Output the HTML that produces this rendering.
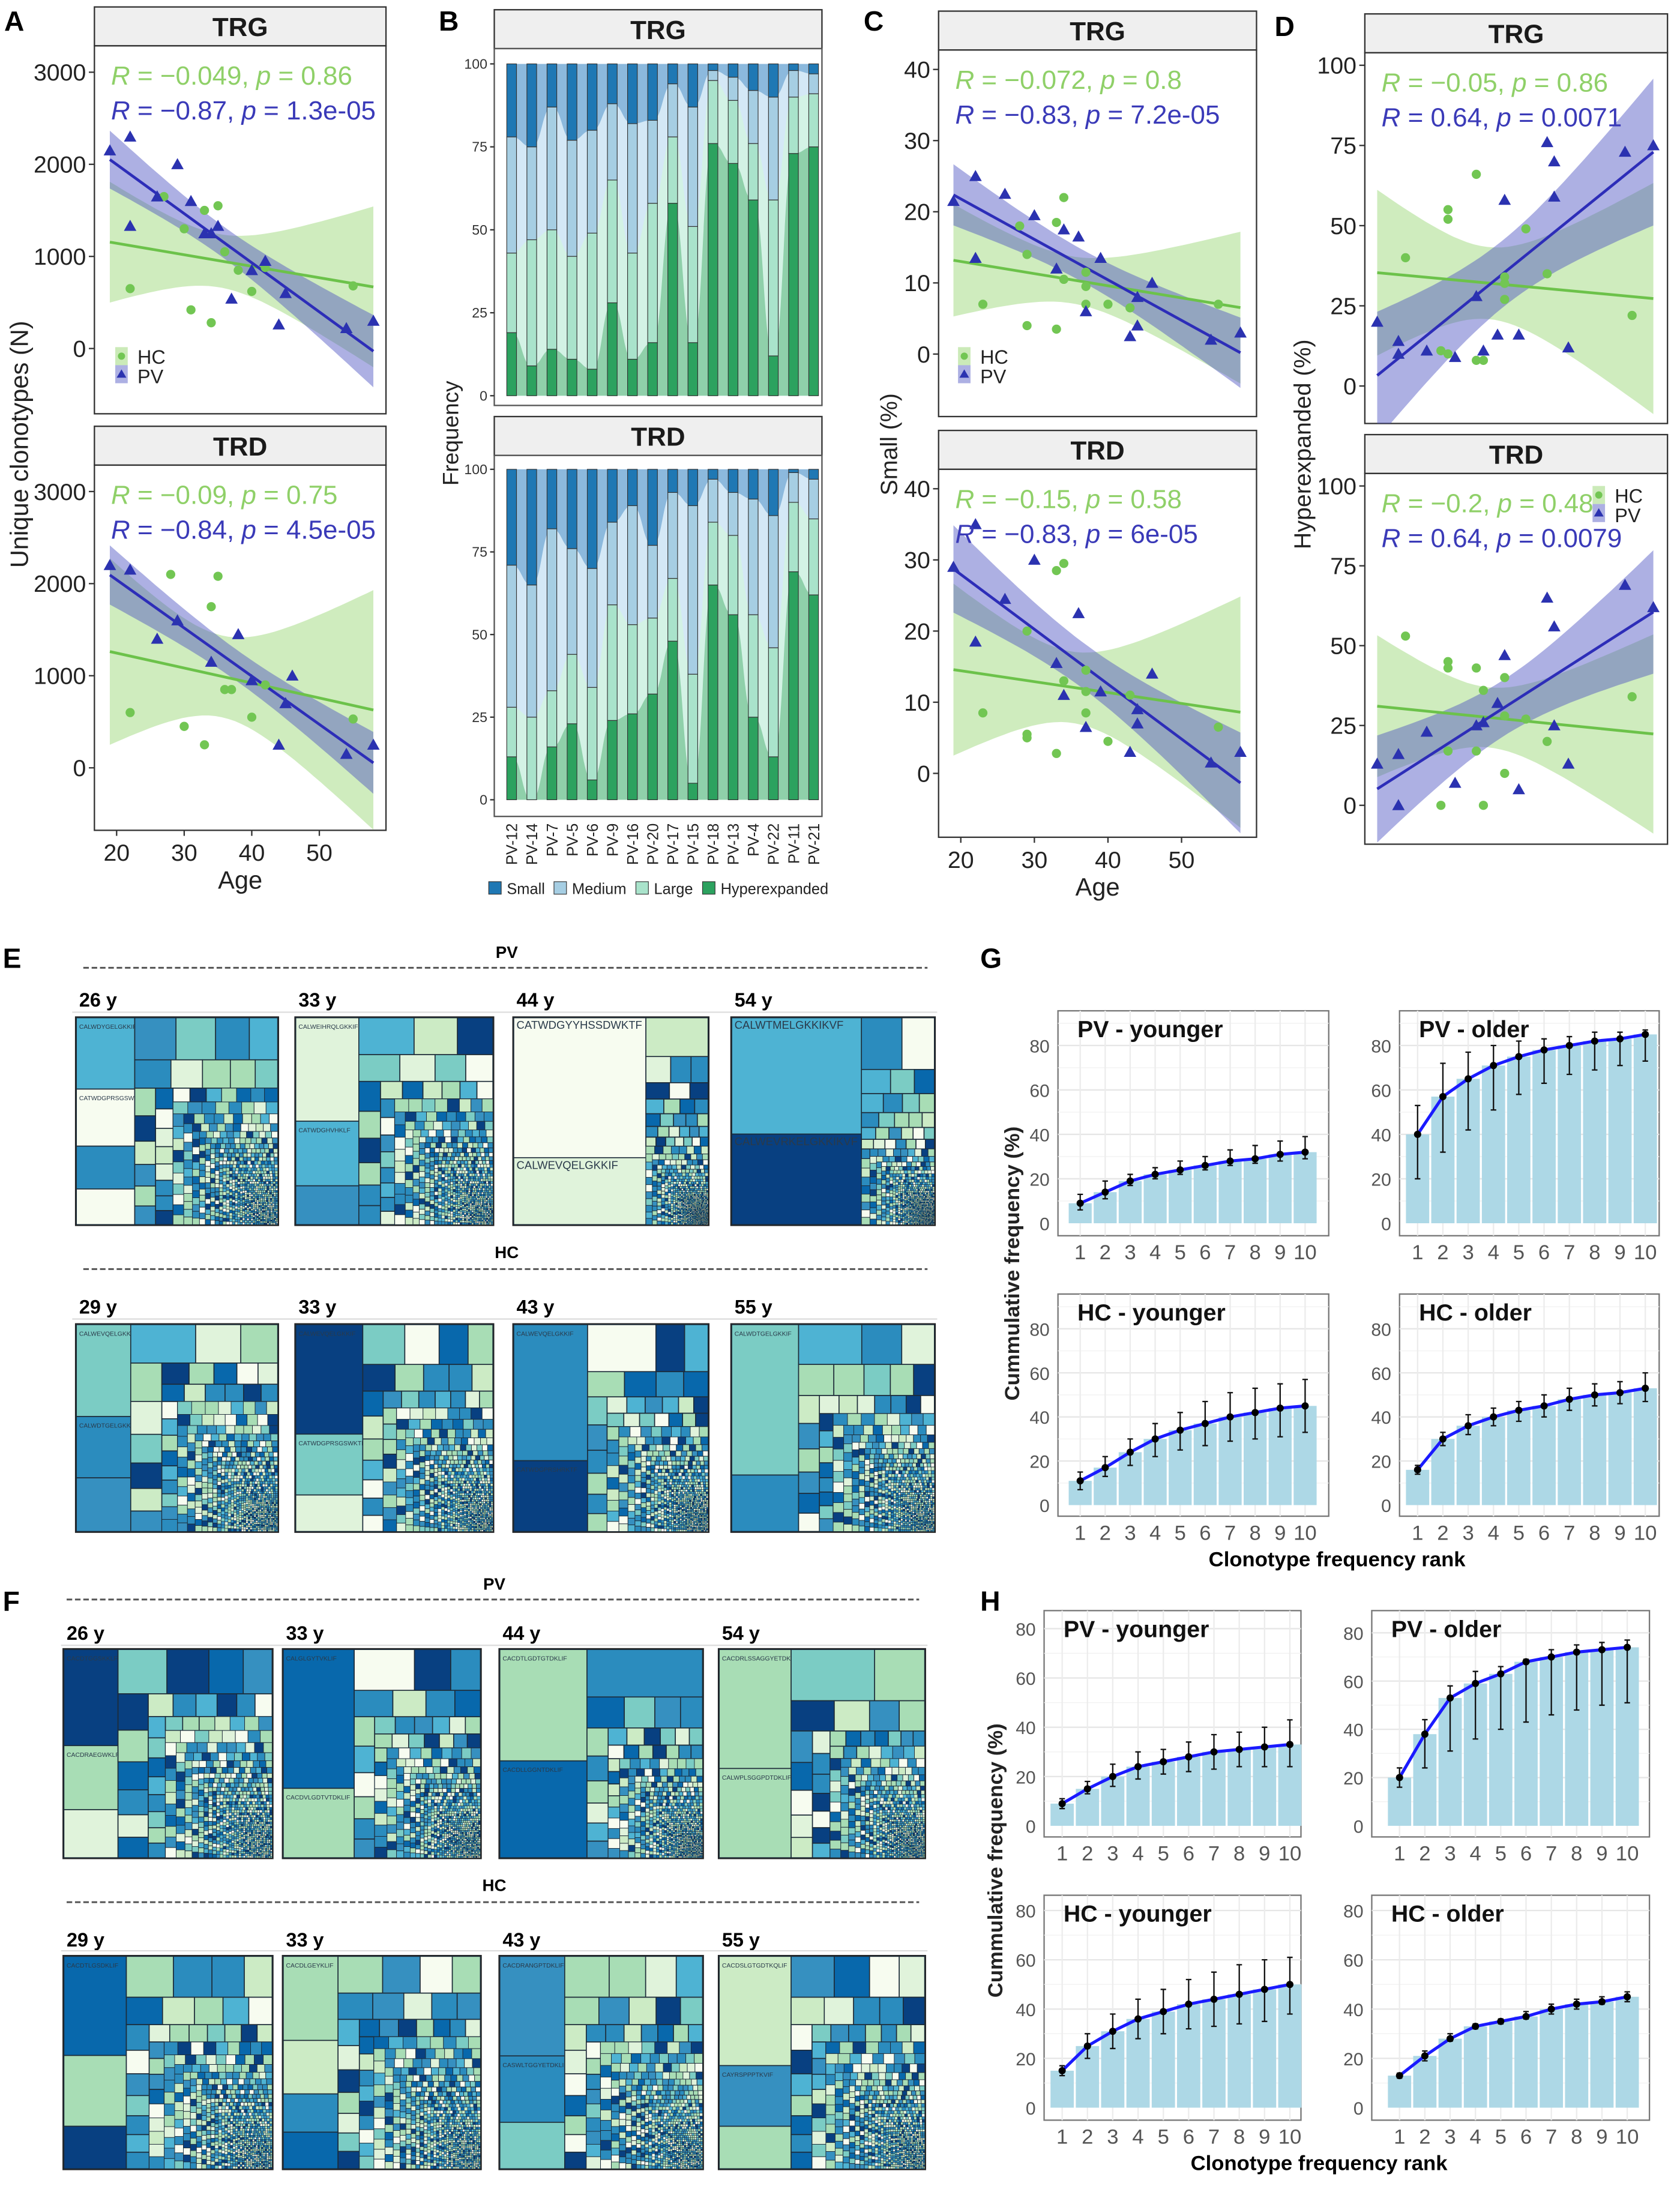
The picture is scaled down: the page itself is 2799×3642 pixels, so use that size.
<!DOCTYPE html>
<html><head><meta charset="utf-8">
<style>
html,body{margin:0;padding:0;background:#fff;}
svg{display:block;font-family:"Liberation Sans",Arial,sans-serif;}
</style></head>
<body>
<svg id="fig" xmlns="http://www.w3.org/2000/svg" width="2799" height="3642" viewBox="0 0 1210 1574.4">
<defs>
<clipPath id="cA1"><rect x="68" y="33" width="210" height="265"/></clipPath>
<clipPath id="cA2"><rect x="68" y="335" width="210" height="263"/></clipPath>
<clipPath id="cC1"><rect x="676" y="36" width="229" height="264"/></clipPath>
<clipPath id="cC2"><rect x="676" y="338" width="229" height="265"/></clipPath>
<clipPath id="cD1"><rect x="983" y="38" width="218" height="267"/></clipPath>
<clipPath id="cD2"><rect x="983" y="341" width="218" height="267"/></clipPath>
</defs>
<rect x="0" y="0" width="1210" height="1574.4" fill="#fff"/>
</svg>
<script>
// ---------- Panel A data (Unique clonotypes) ----------
const A_TRG_hcAge=[22,27,30,31,33,34,35,36,38,40,42,55];
const A_TRG_hcVal=[650,1650,1300,420,1500,280,1550,1050,850,620,880,680];
const A_TRG_pvAge=[19,22,22,26,29,31,33,34,35,37,40,42,44,45,54,58];
const A_TRG_pvVal=[2150,2300,1330,1650,2000,1600,1250,1250,1330,540,850,950,260,600,220,300];
const A_TRD_hcAge=[22,28,30,33,34,35,36,37,40,42,55];
const A_TRD_hcVal=[600,2100,450,250,1750,2080,850,850,550,900,530];
const A_TRD_pvAge=[19,22,26,29,34,38,40,44,45,46,54,58];
const A_TRD_pvVal=[2200,2150,1400,1600,1150,1450,950,250,700,1000,150,250];
// ---------- Panel C data (Small %) ----------
const C_TRG_hcAge=[23,28,29,29,33,33,34,34,37,37,37,40,43,55];
const C_TRG_hcVal=[7,18,14,4,18.5,3.5,22,10.5,11.5,9.5,7,7,6.5,7];
const C_TRG_pvAge=[19,22,22,26,30,33,34,36,37,39,43,44,44,46,54,58];
const C_TRG_pvVal=[21.5,25,13.5,22.5,19.5,12,17.5,16.5,6,13.5,2.5,8,4,10,2,3];
const C_TRD_hcAge=[23,29,29,29,33,33,34,34,37,37,37,40,43,55];
const C_TRD_hcVal=[8.5,5.5,5,20,28.5,2.8,29.5,13,14.5,11.5,8.5,4.5,11,6.5];
const C_TRD_pvAge=[19,22,22,26,30,33,34,36,37,39,43,44,44,46,54,58];
const C_TRD_pvVal=[29,35,18.5,24.5,30,15.5,11,22.5,6.5,11.5,3,9,7,14,1.5,3];
// ---------- Panel D data (Hyperexpanded %) ----------
const D_TRG_hcAge=[23,28,29,29,29,33,33,34,37,37,37,40,43,55];
const D_TRG_hcVal=[40,11,10,52,55,8,66,8,27,32,34,49,35,22];
const D_TRG_pvAge=[19,22,22,26,30,33,34,36,37,39,43,44,44,46,54,58];
const D_TRG_pvVal=[20,14,10,11,9,28,11,16,58,16,76,59,70,12,73,75];
const D_TRD_hcAge=[23,28,29,29,29,33,33,34,34,37,37,37,40,43,55];
const D_TRD_hcVal=[53,0,45,43,17,43,17,36,0,40,10,28,27,20,34];
const D_TRD_pvAge=[19,22,22,26,30,33,34,36,37,39,43,44,44,46,54,58];
const D_TRD_pvVal=[13,16,0,23,7,25,26,32,47,5,65,56,25,13,69,62];
// ---------- Panel B data (stacked frequency) ----------
const B_categories=["PV-12","PV-14","PV-7","PV-5","PV-6","PV-9","PV-16","PV-20","PV-17","PV-15","PV-18","PV-13","PV-4","PV-22","PV-11","PV-21"];
const B_TRG_hyper=[19,9,14,11,8,28,11,16,58,16,76,70,59,12,73,75];
const B_TRG_large=[24,38,36,31,41,37,32,42,20,35,19,19,17,47,17,16];
const B_TRG_medium=[35,28,37,35,31,23,39,25,16,36,3,7,16,31,8,6];
const B_TRD_hyper=[13,0,16,23,6,24,26,32,48,5,65,56,25,13,69,62];
const B_TRD_large=[15,25,17,21,28,35,27,23,19,33,19,24,31,33,21,23];
const B_TRD_medium=[43,40,49,32,36,25,36,22,26,51,13,13,35,40,9,12];
const B_ticks=[0,25,50,75,100];
// ---------- Panels G/H data (cumulative frequency, mean / lower / upper) ----------
const rankCats=[1,2,3,4,5,6,7,8,9,10];
const G_pvY_val=[9,14,19,22,24,26,28,29,31,32];
const G_pvY_lo=[6,11,17,20,22,24,26,27,28,29];
const G_pvY_hi=[13,19,22,25,28,30,33,35,37,39];
const G_pvO_val=[40,57,65,71,75,78,80,82,83,85];
const G_pvO_lo=[20,32,42,51,58,63,67,69,71,73];
const G_pvO_hi=[53,72,77,80,82,83,84,86,86,87];
const G_hcY_val=[11,17,24,30,34,37,40,42,44,45];
const G_hcY_lo=[7,13,18,22,25,27,29,30,31,33];
const G_hcY_hi=[15,22,30,37,42,47,51,53,55,57];
const G_hcO_val=[16,30,36,40,43,45,48,50,51,53];
const G_hcO_lo=[14,27,32,36,38,40,43,45,46,47];
const G_hcO_hi=[18,33,41,44,47,50,53,55,56,60];
const H_pvY_val=[9,15,20,24,26,28,30,31,32,33];
const H_pvY_lo=[7,13,16,19,21,22,23,24,24,24];
const H_pvY_hi=[11,18,25,30,31,34,37,38,40,43];
const H_pvO_val=[20,38,53,59,63,68,70,72,73,74];
const H_pvO_lo=[16,24,31,36,40,43,46,48,50,51];
const H_pvO_hi=[24,44,58,64,66,69,73,75,76,77];
const H_hcY_val=[15,25,31,36,39,42,44,46,48,50];
const H_hcY_lo=[13,20,24,28,30,32,33,34,35,38];
const H_hcY_hi=[17,30,38,44,48,52,55,58,60,61];
const H_hcO_val=[13,21,28,33,35,37,40,42,43,45];
const H_hcO_lo=[12,19,27,32,34,36,38,40,42,43];
const H_hcO_hi=[14,23,30,34,36,39,42,44,45,47];
const rankTicks=[0,20,40,60,80];

const NS='http://www.w3.org/2000/svg';
const svg=document.getElementById('fig');
function el(tag,a,p){const e=document.createElementNS(NS,tag);for(const k in a)e.setAttribute(k,a[k]);(p||svg).appendChild(e);return e;}
function txt(s,x,y,a,p){const t=el('text',Object.assign({x:x,y:y},a||{}),p);t.textContent=s;return t;}
function lin(d0,d1,r0,r1){return v=>r0+(v-d0)*(r1-r0)/(d1-d0);}

const GREEN='#6cc24a', BLUE='#2d2db8';

[["A",3,22],["B",316,22],["C",622,22],["D",918,26],["E",2,697],["F",2,1160],["G",706,697],["H",706,1160]].forEach(l=>{
  const t=txt(l[0],l[1],l[2],{'font-size':20,'font-weight':'bold'});
  
  
});

function header(x0,x1,y0,y1,label,name){
  const g=el('g',{});
  
  
  el('rect',{x:x0,y:y0,width:x1-x0,height:y1-y0,fill:'#efefef',stroke:'#333','stroke-width':1},g);
  txt(label,(x0+x1)/2,y1-7,{'font-size':19,'font-weight':'bold','text-anchor':'middle',fill:'#1a1a1a'},g);
}

function regress(xs,ys){
  const n=xs.length;let mx=0,my=0;xs.forEach((x,i)=>{mx+=x;my+=ys[i];});mx/=n;my/=n;
  let sxx=0,sxy=0;xs.forEach((x,i)=>{sxx+=(x-mx)*(x-mx);sxy+=(x-mx)*(ys[i]-my);});
  const b=sxy/sxx,a=my-b*mx;let sse=0;xs.forEach((x,i)=>{const r=ys[i]-(a+b*x);sse+=r*r;});
  const s=Math.sqrt(sse/(n-2));return {a,b,mx,sxx,s,n};
}

function scatterPanel(c){
  header(c.x0,c.x1,c.hTop,c.top,c.title,c.name+'-header');
  const g=el('g',{});
  
  
  el('rect',{x:c.x0,y:c.top,width:c.x1-c.x0,height:c.bottom-c.top,fill:'#fff',stroke:'#333','stroke-width':1},g);
  const xs=lin(20,50,c.ax20,c.ax50), ys=lin(0,c.tmax,c.y0,c.yMax);
  c.ticks.forEach(t=>{
    el('line',{x1:c.x0-4,x2:c.x0,y1:ys(t),y2:ys(t),stroke:'#333'},g);
    const tt=txt(String(t),c.x0-6,ys(t)+6,{'font-size':17,'text-anchor':'end',fill:'#222'},g);
    
    
  });
  const cg=el('g',{'clip-path':'url(#'+c.clip+')'},g);
  const allAges=c.hcA.concat(c.pvA);
  const lo=Math.min(...allAges),hi=Math.max(...allAges);
  const groups=[{a:c.hcA,v:c.hcV,col:GREEN,band:'#a8dc88',bo:0.55,nm:'hc'},{a:c.pvA,v:c.pvV,col:BLUE,band:'#4a50c0',bo:0.45,nm:'pv'}];
  groups.forEach(G=>{
    const r=regress(G.a,G.v);
    const up=[],dn=[];
    for(let k=0;k<=40;k++){const x=lo+(hi-lo)*k/40;const f=r.a+r.b*x;const se=r.s*Math.sqrt(1/r.n+(x-r.mx)*(x-r.mx)/r.sxx)*2.14;
      up.push(xs(x).toFixed(1)+','+ys(f+se).toFixed(1));dn.unshift(xs(x).toFixed(1)+','+ys(f-se).toFixed(1));}
    const band=el('polygon',{points:up.concat(dn).join(' '),fill:G.band,'fill-opacity':G.bo},cg);
    
    
    G.r=r;
  });
  groups.forEach(G=>{
    const ln=el('line',{x1:xs(lo),y1:ys(G.r.a+G.r.b*lo),x2:xs(hi),y2:ys(G.r.a+G.r.b*hi),stroke:G.col,'stroke-width':2},cg);
    
    
  });
  c.hcA.forEach((a,i)=>{
    const p=el('circle',{cx:xs(a),cy:ys(c.hcV[i]),r:3.3,fill:'#72c653'},cg);
    
    
  });
  c.pvA.forEach((a,i)=>{
    const x=xs(a),y=ys(c.pvV[i]);
    const p=el('polygon',{points:`${x},${y-4.5} ${x-4.5},${y+3.5} ${x+4.5},${y+3.5}`,fill:'#2b32b0'},cg);
    
    
  });
  const s1=el('text',{x:c.x0+12,y:c.top+28,'font-size':19,fill:'#8fd068'},g);
  s1.innerHTML='<tspan font-style="italic">R</tspan> = \u2212'+c.s1[0]+', <tspan font-style="italic">p</tspan> = '+c.s1[1];
  
  
  const s2=el('text',{x:c.x0+12,y:c.top+53,'font-size':19,fill:'#3a3ab8'},g);
  s2.innerHTML='<tspan font-style="italic">R</tspan> = '+c.s2[0]+', <tspan font-style="italic">p</tspan> = '+c.s2[1];
  
  
  if(c.legend){
    const lg=el('g',{});
    
    
    const [lx,ly]=c.legend;
    el('rect',{x:lx,y:ly,width:9,height:13,fill:'#a8dc88','fill-opacity':0.6},lg);
    el('circle',{cx:lx+4.5,cy:ly+6.5,r:2.6,fill:'#72c653'},lg);
    txt('HC',lx+16,ly+12,{'font-size':14,fill:'#222'},lg);
    el('rect',{x:lx,y:ly+13,width:9,height:13,fill:'#4a50c0','fill-opacity':0.45},lg);
    el('polygon',{points:`${lx+4.5},${ly+16} ${lx+1},${ly+22} ${lx+8},${ly+22}`,fill:'#2b32b0'},lg);
    txt('PV',lx+16,ly+26,{'font-size':14,fill:'#222'},lg);
  }
  if(c.xaxis){
    [20,30,40,50].forEach(v=>{
      el('line',{x1:xs(v),x2:xs(v),y1:c.bottom,y2:c.bottom+4,stroke:'#333'},g);
      const t=txt(String(v),xs(v),c.bottom+22,{'font-size':17,'text-anchor':'middle',fill:'#222'},g);
      
      
    });
    const at=txt('Age',(c.x0+c.x1)/2,c.bottom+42,{'font-size':18,'text-anchor':'middle',fill:'#222'});
    
    
  }
}

scatterPanel({name:'a-trg',title:'TRG',x0:68,x1:278,hTop:5,top:33,bottom:298,ax20:84,ax50:230,y0:251,yMax:52,tmax:3000,ticks:[0,1000,2000,3000],clip:'cA1',hcA:A_TRG_hcAge,hcV:A_TRG_hcVal,pvA:A_TRG_pvAge,pvV:A_TRG_pvVal,s1:['0.049','0.86'],s2:['\u22120.87','1.3e-05'],legend:[83,250]});
scatterPanel({name:'a-trd',title:'TRD',x0:68,x1:278,hTop:307,top:335,bottom:598,ax20:84,ax50:230,y0:553,yMax:354,tmax:3000,ticks:[0,1000,2000,3000],clip:'cA2',hcA:A_TRD_hcAge,hcV:A_TRD_hcVal,pvA:A_TRD_pvAge,pvV:A_TRD_pvVal,s1:['0.09','0.75'],s2:['\u22120.84','4.5e-05'],xaxis:true});
scatterPanel({name:'c-trg',title:'TRG',x0:676,x1:905,hTop:8,top:36,bottom:300,ax20:692,ax50:851,y0:255,yMax:50,tmax:40,ticks:[0,10,20,30,40],clip:'cC1',hcA:C_TRG_hcAge,hcV:C_TRG_hcVal,pvA:C_TRG_pvAge,pvV:C_TRG_pvVal,s1:['0.072','0.8'],s2:['\u22120.83','7.2e-05'],legend:[690,250]});
scatterPanel({name:'c-trd',title:'TRD',x0:676,x1:905,hTop:310,top:338,bottom:603,ax20:692,ax50:851,y0:557,yMax:352,tmax:40,ticks:[0,10,20,30,40],clip:'cC2',hcA:C_TRD_hcAge,hcV:C_TRD_hcVal,pvA:C_TRD_pvAge,pvV:C_TRD_pvVal,s1:['0.15','0.58'],s2:['\u22120.83','6e-05'],xaxis:true});
scatterPanel({name:'d-trg',title:'TRG',x0:983,x1:1201,hTop:10,top:38,bottom:305,ax20:997,ax50:1150,y0:278,yMax:47,tmax:100,ticks:[0,25,50,75,100],clip:'cD1',hcA:D_TRG_hcAge,hcV:D_TRG_hcVal,pvA:D_TRG_pvAge,pvV:D_TRG_pvVal,s1:['0.05','0.86'],s2:['0.64','0.0071']});
scatterPanel({name:'d-trd',title:'TRD',x0:983,x1:1201,hTop:313,top:341,bottom:608,ax20:997,ax50:1150,y0:580,yMax:350,tmax:100,ticks:[0,25,50,75,100],clip:'cD2',hcA:D_TRD_hcAge,hcV:D_TRD_hcVal,pvA:D_TRD_pvAge,pvV:D_TRD_pvVal,s1:['0.2','0.48'],s2:['0.64','0.0079'],legend:[1147,350]});

function rotLabel(s,x,y,size,name,bold){
  const t=txt(s,x,y,{'font-size':size,'text-anchor':'middle',fill:'#222',transform:`rotate(-90 ${x} ${y})`,'font-weight':bold?'bold':'normal'});
  
  
}
rotLabel('Unique clonotypes (N)',20,320,18,'a-y-axis-title');
rotLabel('Frequency',330,312,16,'b-y-axis-title');
rotLabel('Small (%)',646,320,17,'c-y-axis-title');
rotLabel('Hyperexpanded (%)',944,320,17,'d-y-axis-title');

// ---------- Panel B ----------
const B_COL={small:'#1f78b4',medium:'#a6cee3',large:'#a9e3cb',hyper:'#2ca25f'};
const B_AREA={small:'#8cb9dd',medium:'#d4e8f6',large:'#d3f2e5',hyper:'#8fd0aa'};
function stackPanel(name,title,hTop,top,bottom,y0,y100,hy,lg,md){
  header(356,592,hTop,top,title,name+'-header');
  const g=el('g',{});
  
  
  el('rect',{x:356,y:top,width:236,height:bottom-top,fill:'#fff',stroke:'#555','stroke-width':1},g);
  const ys=lin(0,100,y0,y100);
  const n=B_categories.length, xs=i=>lin(0,n-1,368.5,586)(i);
  B_ticks.forEach(t=>{
    el('line',{x1:353,x2:356,y1:ys(t),y2:ys(t),stroke:'#333'},g);
    const tt=txt(String(t),351,ys(t)+3.5,{'font-size':10,'text-anchor':'end',fill:'#333'},g);
    
    
  });
  const c1=hy, c2=hy.map((v,i)=>v+lg[i]), c3=c2.map((v,i)=>v+md[i]), c4=hy.map(()=>100);
  function area(cum){
    let d=`M${xs(0)},${ys(0)} L${xs(0)},${ys(cum[0])}`;
    for(let i=1;i<n;i++){const xa=xs(i-1),xb=xs(i),xm=(xa+xb)/2;d+=` C${xm},${ys(cum[i-1])} ${xm},${ys(cum[i])} ${xb},${ys(cum[i])}`;}
    d+=` L${xs(n-1)},${ys(0)} Z`;return d;
  }
  [['small',c4],['medium',c3],['large',c2],['hyper',c1]].forEach(p=>{
    const a=el('path',{d:area(p[1]),fill:B_AREA[p[0]]},g);
    
    
  });
  const segs=[['hyper',i=>0,i=>c1[i]],['large',i=>c1[i],i=>c2[i]],['medium',i=>c2[i],i=>c3[i]],['small',i=>c3[i],i=>100]];
  for(let i=0;i<n;i++){
    segs.forEach(s=>{
      const lo=s[1](i),hi=s[2](i);if(hi-lo<=0)return;
      const r=el('rect',{x:xs(i)-3.5,y:ys(hi),width:7,height:ys(lo)-ys(hi),fill:B_COL[s[0]],stroke:'#333','stroke-width':0.5},g);
      
      
    });
  }
  return xs;
}
stackPanel('b-trg','TRG',7,35,292,285,46,B_TRG_hyper,B_TRG_large,B_TRG_medium);
const bx=stackPanel('b-trd','TRD',300,328,588,576,338,B_TRD_hyper,B_TRD_large,B_TRD_medium);
B_categories.forEach((c,i)=>{
  const x=bx(i)+4,y=593;
  const t=txt(c,x,y,{'font-size':11,'text-anchor':'end',fill:'#222',transform:`rotate(-90 ${x} ${y})`});
  
  
});
(function(){
  const lg=el('g',{});
  
  
  [['Small','small',352],['Medium','medium',399],['Large','large',458],['Hyperexpanded','hyper',506]].forEach(e=>{
    el('rect',{x:e[2],y:635,width:9,height:9,fill:B_COL[e[1]],stroke:'#333','stroke-width':0.5},lg);
    txt(e[0],e[2]+13,644,{'font-size':11,fill:'#222'},lg);
  });
})();

// ---------- Treemaps (E, F) ----------
const PAL=['#f7fcf0','#ccebc5','#a8ddb5','#7bccc4','#4eb3d3','#2b8cbe','#0868ac','#084081','#e0f3db','#3690c0','#a8ddb5','#2b8cbe'];
function worstR(row,s){let sum=0,mx=-1,mn=1e9;row.forEach(v=>{sum+=v;mx=Math.max(mx,v);mn=Math.min(mn,v);});return Math.max(s*s*mx/(sum*sum),sum*sum/(s*s*mn));}
function squarify(vals,x,y,w,h,out){
  let i=0;
  while(i<vals.length&&w>0.15&&h>0.15){
    const vert=(w*1.15>=h);
    const s=vert?h:w;let row=[vals[i]],j=i+1,worst=worstR(row,s);
    while(j<vals.length){const r2=row.concat(vals[j]);const w2=worstR(r2,s);if(w2>worst)break;row=r2;worst=w2;j++;}
    const sum=row.reduce((a,b)=>a+b,0);
    if(vert){const cw=Math.min(sum/h,w);let yy=y;row.forEach(v=>{const ch=v/cw;out.push([x,yy,cw,ch]);yy+=ch;});x+=cw;w-=cw;}
    else{const rh=Math.min(sum/w,h);let xx=x;row.forEach(v=>{const cw=v/rh;out.push([xx,y,cw,rh]);xx+=cw;});y+=rh;h-=rh;}
    i=j;
  }
}
function treemap(x,y,w,h,tops,seed,labels,name){
  const g=el('g',{});
  
  
  el('rect',{x:x-1,y:y-1,width:w+2,height:h+2,fill:'#222'},g);
  const area=w*h;const topSum=tops.reduce((a,b)=>a+b,0);
  const tail=[];let ts=0;for(let i=0;i<900;i++){const v=1/Math.pow(i+6,1.3);tail.push(v);ts+=v;}
  const vals=tops.map(t=>t*area).concat(tail.map(v=>v/ts*(1-topSum)*area));
  vals.sort((a,b)=>b-a);
  const out=[];squarify(vals,x,y,w,h,out);
  out.forEach((r,i)=>{
    const ci=(i*7+seed*3+((i*i+seed)%5))%PAL.length;
    const small=r[2]<2.5||r[3]<2.5;
    const c=el('rect',{x:r[0].toFixed(2),y:r[1].toFixed(2),width:Math.max(r[2],0.1).toFixed(2),height:Math.max(r[3],0.1).toFixed(2),fill:PAL[ci],stroke:'#1d2b38','stroke-width':i<30?0.7:(small?0.25:0.4)},g);
    
    
    if(labels&&labels[i]){const lt=txt(labels[i],r[0]+2,r[1]+8,{'font-size':r[2]>80?8:4.5,fill:'#2a3a4a'},g);
      
      }
  });
}
function section(label,lx,ly,dashY,dx0,dx1,name){
  const t=txt(label,lx,ly,{'font-size':12,'font-weight':'bold','text-anchor':'middle'});
  
  
  const l=el('line',{x1:dx0,x2:dx1,y1:dashY,y2:dashY,stroke:'#555','stroke-width':1.3,'stroke-dasharray':'4,2'});
  
  
}
function ageTitle(s,x,y){const t=txt(s,x,y,{'font-size':14,'font-weight':'bold'});}
section('PV',365,690,697,60,668,'e-pv');
section('HC',365,906,914,60,668,'e-hc');
const EX=[[55,145],[213,142],[370,140],[527,146]];
const E_pv=[['26 y',[0.1,0.08,0.06,0.05,0.04],['CALWDYGELGKKIF','CATWDGPRSGSWKTF']],['33 y',[0.16,0.1,0.06,0.05],['CALWEIHRQLGKKIF','CATWDGHVHKLF']],['44 y',[0.46,0.22,0.06],['CATWDGYYHSSDWKTF','CALWEVQELGKKIF']],['54 y',[0.36,0.28,0.05,0.04],['CALWTMELGKKIKVF','CALWEVRKELGKKIKVF']]];
const E_hc=[['29 y',[0.12,0.08,0.07,0.06],['CALWEVQELGKKIF','CALWDTGELGKKIF']],['33 y',[0.18,0.1,0.06],['CALWEVQELGKKIF','CATWDGPRSGSWKTF']],['43 y',[0.25,0.13,0.08],['CALWEVQELGKKIF','CATWDGPRSHRKTF']],['55 y',[0.24,0.09,0.06],['CALWDTGELGKKIF']]];
E_pv.forEach((m,k)=>{ageTitle(m[0],EX[k][0]+2,725);treemap(EX[k][0],733,EX[k][1],149,m[1],k+1,m[2],'e-pv-treemap-'+k);});
E_hc.forEach((m,k)=>{ageTitle(m[0],EX[k][0]+2,946);treemap(EX[k][0],954,EX[k][1],149,m[1],k+5,m[2],'e-hc-treemap-'+k);});
el('line',{x1:52,x2:675,y1:729,y2:729,stroke:'#ddd'});
el('line',{x1:52,x2:675,y1:950,y2:950,stroke:'#ddd'});
section('PV',356,1145,1152,48,662,'f-pv');
section('HC',356,1362,1370,48,662,'f-hc');
const FX=[[46,150],[204,142],[360,146],[518,148]];
const F_pv=[['26 y',[0.12,0.08,0.06,0.05],['CACDTGGSKKLF','CACDRAEGWKLF']],['33 y',[0.24,0.12,0.06],['CALGLGYTVKLIF','CACDVLGDTVTDKLIF']],['44 y',[0.23,0.2,0.13],['CACDTLGDTGTDKLIF','CACDLLGGNTDKLIF']],['54 y',[0.2,0.15,0.1,0.06],['CACDRLSSAGGYETDKLIF','CALWPLSGGPDTDKLIF']]];
const F_hc=[['29 y',[0.14,0.1,0.06],['CACDTLGSDKLIF']],['33 y',[0.11,0.07,0.05],['CACDLGEYKLIF']],['43 y',[0.15,0.1,0.07],['CACDRANGPTDKLIF','CASWLTGGYETDKLIF']],['55 y',[0.18,0.1,0.07],['CACDSLGTGDTKQLIF','CAYRSPPPTKVIF']]];
F_pv.forEach((m,k)=>{ageTitle(m[0],FX[k][0]+2,1181);treemap(FX[k][0],1188,FX[k][1],150,m[1],k+9,m[2],'f-pv-treemap-'+k);});
F_hc.forEach((m,k)=>{ageTitle(m[0],FX[k][0]+2,1402);treemap(FX[k][0],1409,FX[k][1],153,m[1],k+13,m[2],'f-hc-treemap-'+k);});
el('line',{x1:44,x2:668,y1:1185,y2:1185,stroke:'#ddd'});
el('line',{x1:44,x2:668,y1:1405,y2:1405,stroke:'#ddd'});

// ---------- G/H ----------
function rankPanel(c){
  const g=el('g',{});
  
  
  el('rect',{x:c.x0,y:c.top,width:c.x1-c.x0,height:c.bottom-c.top,fill:'#fff',stroke:'#777','stroke-width':1},g);
  const ys=lin(0,80,c.y0,c.y80), xs=lin(1,10,c.r1,c.r10);
  const step=(c.r10-c.r1)/9;
  for(let v=10;v<=90;v+=10){const yy=ys(v);if(yy>c.top+2)el('line',{x1:c.x0,x2:c.x1,y1:yy,y2:yy,stroke:v%20?'#f2f2f2':'#e6e6e6','stroke-width':v%20?0.6:1},g);}
  rankCats.forEach(k=>el('line',{x1:xs(k),x2:xs(k),y1:c.top,y2:c.bottom,stroke:'#ececec','stroke-width':1},g));
  rankTicks.forEach(t=>{
    const tt=txt(String(t),c.x0-6,ys(t)+5,{'font-size':13,'text-anchor':'end',fill:'#555'},g);
    
    
  });
  rankCats.forEach((k,i)=>{
    const b=el('rect',{x:xs(k)-step*0.46,y:ys(c.val[i]),width:step*0.92,height:ys(0)-ys(c.val[i]),fill:'#add8e6'},g);
    
    
    const tt=txt(String(k),xs(k),c.bottom+17,{'font-size':15,'text-anchor':'middle',fill:'#555'},g);
    
    
  });
  let d='';rankCats.forEach((k,i)=>{d+=(i?' L':'M')+xs(k)+','+ys(c.val[i]);});
  const ln=el('path',{d:d,fill:'none',stroke:'#1a1aff','stroke-width':2.2},g);
  
  
  rankCats.forEach((k,i)=>{
    const x=xs(k),hi=ys(c.hi[i]),lo=ys(c.lo[i]);
    const e=el('path',{d:`M${x},${hi} L${x},${lo} M${x-2},${hi} L${x+2},${hi} M${x-2},${lo} L${x+2},${lo}`,stroke:'#111','stroke-width':1,fill:'none'},g);
    
    
    const p=el('circle',{cx:x,cy:ys(c.val[i]),r:2.6,fill:'#000'},g);
    
    
  });
  const t=txt(c.title,c.x0+14,c.top+19,{'font-size':17,'font-weight':'bold',fill:'#111'},g);
  
  
}
rankPanel({name:'g-pv-younger',title:'PV - younger',x0:762,x1:957,top:728,bottom:890,y0:881,y80:753,r1:778,r10:940,val:G_pvY_val,lo:G_pvY_lo,hi:G_pvY_hi});
rankPanel({name:'g-pv-older',title:'PV - older',x0:1008,x1:1195,top:728,bottom:890,y0:881,y80:753,r1:1021,r10:1185,val:G_pvO_val,lo:G_pvO_lo,hi:G_pvO_hi});
rankPanel({name:'g-hc-younger',title:'HC - younger',x0:762,x1:957,top:932,bottom:1092,y0:1084,y80:957,r1:778,r10:940,val:G_hcY_val,lo:G_hcY_lo,hi:G_hcY_hi});
rankPanel({name:'g-hc-older',title:'HC - older',x0:1008,x1:1195,top:932,bottom:1092,y0:1084,y80:957,r1:1021,r10:1185,val:G_hcO_val,lo:G_hcO_lo,hi:G_hcO_hi});
rankPanel({name:'h-pv-younger',title:'PV - younger',x0:752,x1:937,top:1160,bottom:1323,y0:1315,y80:1173,r1:765,r10:929,val:H_pvY_val,lo:H_pvY_lo,hi:H_pvY_hi});
rankPanel({name:'h-pv-older',title:'PV - older',x0:988,x1:1188,top:1160,bottom:1323,y0:1315,y80:1176,r1:1008,r10:1172,val:H_pvO_val,lo:H_pvO_lo,hi:H_pvO_hi});
rankPanel({name:'h-hc-younger',title:'HC - younger',x0:752,x1:937,top:1365,bottom:1527,y0:1518,y80:1376,r1:765,r10:929,val:H_hcY_val,lo:H_hcY_lo,hi:H_hcY_hi});
rankPanel({name:'h-hc-older',title:'HC - older',x0:988,x1:1188,top:1365,bottom:1527,y0:1518,y80:1376,r1:1008,r10:1172,val:H_hcO_val,lo:H_hcO_lo,hi:H_hcO_hi});
rotLabel('Cummulative frequency (%)',734,910,15,'g-y-axis-title',true);
rotLabel('Cummulative frequency (%)',722,1340,15,'h-y-axis-title',true);
(function(){
  const t1=txt('Clonotype frequency rank',963,1128,{'font-size':15,'font-weight':'bold','text-anchor':'middle'});
  
  
  const t2=txt('Clonotype frequency rank',950,1563,{'font-size':15,'font-weight':'bold','text-anchor':'middle'});
  
  
})();
</script>
</body></html>
